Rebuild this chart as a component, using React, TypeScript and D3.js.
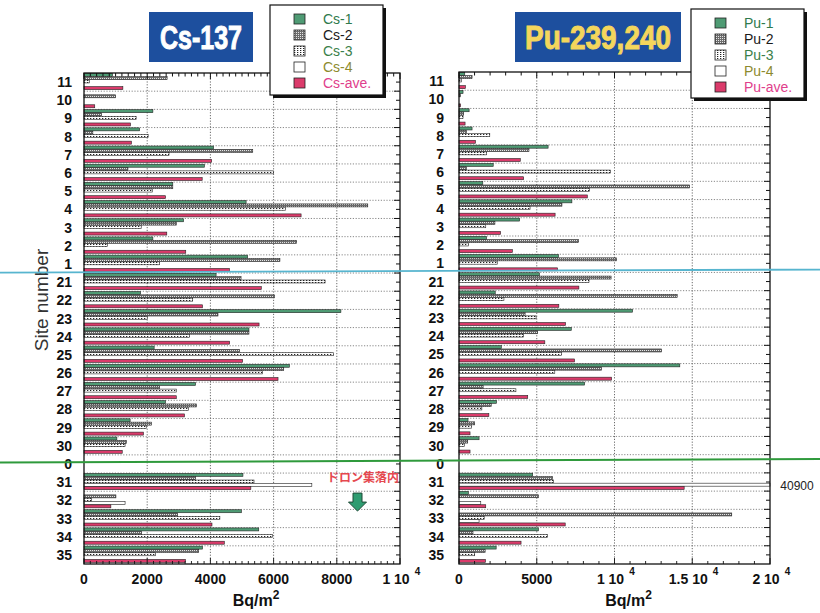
import React, { useRef, useEffect } from "react";
import * as d3 from "d3";

// site order, top to bottom ("0" is an empty separator row)
const sites = ["11", "10", "9", "8", "7", "6", "5", "4", "3", "2", "1", "21", "22", "23", "24", "25", "26", "27", "28", "29", "30", "0", "31", "32", "33", "34", "35"];

// Cs-137, Bq/m2
const cs1 = [900, 0, 2180, 1760, 4100, 3810, 2810, 5130, 3150, 2180, 5180, 4180, 1790, 8130, 5220, 2220, 6500, 3530, 2580, 1460, 1040, null, 5030, 0, 4980, 5530, 3750];
const cs2 = [2630, 1000, 550, 280, 5340, 1390, 2810, 8980, 2920, 6730, 6200, 4970, 6030, 4240, 5220, 4920, 6320, 2390, 3560, 2130, 1340, null, 3530, 1010, 2960, 1820, 3630];
const cs3 = [180, 0, 1650, 2030, 2690, 6000, 2160, 6370, 1810, 740, 2390, 7630, 3440, 2000, 3340, 7890, 5650, 2920, 3310, 1970, 1300, null, 5380, 240, 4300, 5960, 2260];
const cs4 = [0, 0, 0, 0, 0, 0, 0, 0, 0, 0, 0, 0, 0, 0, 0, 0, 0, 0, 0, 0, 0, null, 7210, 1300, 0, 0, 0];
const csAve = [1230, 340, 1470, 1500, 4040, 3740, 2580, 6870, 2620, 3220, 4600, 5610, 3750, 5540, 4610, 5020, 6140, 2920, 3180, 1880, 1210, null, 5280, 850, 4050, 4440, 3210];

// Pu-239,240, Bq/m2
const pu1 = [370, 260, 650, 840, 5730, 2200, 1530, 7260, 3900, 1770, 6400, 5170, 2330, 11160, 7220, 2720, 14200, 8080, 2410, 580, 1290, null, 4740, 600, 0, 5110, 2390];
const pu2 = [840, 90, 300, 470, 4500, 470, 14830, 6620, 2310, 7690, 10130, 9780, 14030, 4250, 5060, 13020, 9160, 1550, 2070, 1010, 560, null, 6010, 5110, 17540, 900, 1680];
const pu3 = [150, 0, 260, 1980, 1770, 9740, 8400, 4570, 1720, 600, 2460, 8360, 2890, 4960, 4140, 6590, 6160, 3660, 1470, 800, 340, null, 6080, 0, 1620, 5690, 1010];
const pu4 = [0, 0, 0, 0, 0, 0, 0, 0, 0, 0, 0, 0, 0, 0, 0, 0, 0, 0, 0, 0, 0, null, 40900, 1400, 1290, 0, 0];
const puAve = [410, 100, 390, 1060, 3940, 4160, 8250, 6180, 2670, 3430, 6340, 7710, 6420, 6850, 5520, 7430, 9810, 4420, 1920, 710, 710, null, 14480, 1720, 6830, 3990, 1700];

const csNames = ["Cs-1", "Cs-2", "Cs-3", "Cs-4", "Cs-ave."];
const puNames = ["Pu-1", "Pu-2", "Pu-3", "Pu-4", "Pu-ave."];
const nameColors = ["#2f7a4c", "#1a1a1a", "#3b7f4a", "#8d8a2e", "#e0408c"];

const csTicks = [0, 2000, 4000, 6000, 8000, 10000];
const csTickLabels = ["0", "2000", "4000", "6000", "8000", "1 10"];
const csTickSup = ["", "", "", "", "", "4"];
const puTicks = [0, 5000, 10000, 15000, 20000];
const puTickLabels = ["0", "5000", "1 10", "1.5 10", "2 10"];
const puTickSup = ["", "", "4", "4", "4"];

const fills = ["#4f9b74", "url(#pat-hatch)", "url(#pat-dots)", "#ffffff", "#db3b6b"];
const FONT = "'Liberation Sans', Arial, sans-serif";

const App = () => {
  const svgRef = useRef<SVGSVGElement>(null);

  useEffect(() => {
    const svg = d3.select(svgRef.current);
    svg.selectAll("*").remove();

    const defs = svg.append("defs");
    const hatch = defs.append("pattern").attr("id", "pat-hatch").attr("patternUnits", "userSpaceOnUse").attr("width", 2).attr("height", 2);
    hatch.append("rect").attr("width", 2).attr("height", 2).attr("fill", "#6c6c6c");
    hatch.append("rect").attr("width", 1).attr("height", 1).attr("fill", "#e6e6e6");
    const dots = defs.append("pattern").attr("id", "pat-dots").attr("patternUnits", "userSpaceOnUse").attr("width", 3).attr("height", 2);
    dots.append("rect").attr("width", 3).attr("height", 2).attr("fill", "#ffffff");
    dots.append("rect").attr("width", 1.3).attr("height", 1).attr("fill", "#222");

    svg.append("rect").attr("width", 820).attr("height", 613).attr("fill", "#fff");

    const drawPanel = (p: any) => {
      const x = d3.scaleLinear().domain([0, p.max]).range([p.x0, p.x1]);
      const y = d3.scaleBand().domain(sites).range([p.y0, p.y1]);
      const bw = y.bandwidth();
      const inner = d3.scaleBand<number>().domain(d3.range(5)).range([0.3, bw - 1.6]).paddingInner(0.1);
      const g = svg.append("g");

      // grid
      g.selectAll(".vg").data(p.ticks.slice(1, -1)).join("line")
        .attr("x1", (d: number) => x(d)).attr("x2", (d: number) => x(d))
        .attr("y1", p.y0).attr("y2", p.y1)
        .attr("stroke", "#444").attr("stroke-width", 0.8).attr("stroke-dasharray", "1.2,1.6");
      g.selectAll(".hg").data(sites.slice(1)).join("line")
        .attr("x1", p.x0).attr("x2", p.x1)
        .attr("y1", (d) => y(d)!).attr("y2", (d) => y(d)!)
        .attr("stroke", "#555").attr("stroke-width", 0.7).attr("stroke-dasharray", "1.2,1.6");

      // bars
      p.series.forEach((vals: (number | null)[], si: number) => {
        const rows = sites.map((s, i) => ({ s, v: vals[i] })).filter((d) => d.v != null && d.v > 0);
        g.append("g").selectAll("rect").data(rows).join("rect")
          .attr("x", x(0))
          .attr("y", (d) => y(d.s)! + inner(si)!)
          .attr("width", (d) => x(Math.min(d.v as number, p.max)) - x(0))
          .attr("height", inner.bandwidth())
          .attr("fill", fills[si])
          .attr("stroke", "#222").attr("stroke-width", 0.6);
      });

      // minor ticks top and bottom
      const minors = d3.range(0, p.max + 1e-6, p.minor);
      const isMajor = (d: number) => p.ticks.some((t: number) => Math.abs(t - d) < 1e-6);
      g.selectAll(".tt").data(minors).join("line")
        .attr("x1", (d) => x(d)).attr("x2", (d) => x(d))
        .attr("y1", p.y0).attr("y2", (d) => p.y0 + (isMajor(d) ? 6 : 3.5))
        .attr("stroke", "#111").attr("stroke-width", 1);
      g.selectAll(".tb").data(minors).join("line")
        .attr("x1", (d) => x(d)).attr("x2", (d) => x(d))
        .attr("y1", p.y1).attr("y2", (d) => p.y1 - (isMajor(d) ? 6 : 3))
        .attr("stroke", "#111").attr("stroke-width", 0.9);
      // right edge ticks every half row
      const halfRows = d3.range(1, sites.length * 2).map((i) => p.y0 + (i * bw) / 2);
      g.selectAll(".tr").data(halfRows).join("line")
        .attr("x1", p.x1).attr("x2", (d, i) => p.x1 - (i % 2 === 1 ? 6 : 4))
        .attr("y1", (d) => d).attr("y2", (d) => d)
        .attr("stroke", "#111").attr("stroke-width", 1);

      // frame
      g.append("rect").attr("x", p.x0).attr("y", p.y0)
        .attr("width", p.x1 - p.x0).attr("height", p.y1 - p.y0)
        .attr("fill", "none").attr("stroke", "#111").attr("stroke-width", 1.3);

      // site labels
      g.selectAll(".sl").data(sites).join("text")
        .attr("x", p.x0 - p.labelGap)
        .attr("y", (d) => y(d)! + bw / 2 + 5)
        .attr("text-anchor", "end")
        .attr("font-family", FONT).attr("font-weight", "bold").attr("font-size", 14)
        .attr("fill", "#111")
        .text((d) => d);

      // x tick labels
      p.ticks.forEach((t: number, i: number) => {
        const sup = p.sup[i];
        const tx = x(t) - (sup ? 4 : 0);
        const lbl = g.append("text")
          .attr("x", tx).attr("y", p.y1 + 20)
          .attr("text-anchor", "middle")
          .attr("font-family", FONT).attr("font-weight", "bold").attr("font-size", 14)
          .attr("fill", "#111")
          .text(p.labels[i]);
        if (sup) {
          const w = (lbl.node() as SVGTextElement).getComputedTextLength();
          g.append("text")
            .attr("x", tx + w / 2 + 5).attr("y", p.y1 + 11)
            .attr("font-family", FONT).attr("font-weight", "bold").attr("font-size", 10)
            .attr("fill", "#111").text(sup);
        }
      });

      // axis title
      const at = g.append("text")
        .attr("x", (p.x0 + p.x1) / 2 + 14).attr("y", p.y1 + 42)
        .attr("text-anchor", "middle")
        .attr("font-family", FONT).attr("font-weight", "bold").attr("font-size", 16)
        .attr("fill", "#111");
      at.append("tspan").text("Bq/m");
      at.append("tspan").attr("dy", -7).attr("font-size", 12).text("2");

      // title box
      g.append("rect").attr("x", p.title.x).attr("y", 12).attr("width", p.title.w).attr("height", 50).attr("fill", "#1d4f9e");
      g.append("text")
        .attr("x", p.title.x + p.title.w / 2).attr("y", 49)
        .attr("text-anchor", "middle")
        .attr("font-family", FONT).attr("font-weight", "bold").attr("font-size", 34)
        .attr("textLength", p.title.tw).attr("lengthAdjust", "spacingAndGlyphs")
        .attr("fill", p.title.color)
        .attr("stroke", p.title.color).attr("stroke-width", 1)
        .text(p.title.text);

      // legend
      const L = p.legend;
      g.append("rect").attr("x", L.x + 3).attr("y", L.y + 3).attr("width", L.w).attr("height", L.h).attr("fill", "#111");
      g.append("rect").attr("x", L.x).attr("y", L.y).attr("width", L.w).attr("height", L.h)
        .attr("fill", "#fff").attr("stroke", "#111").attr("stroke-width", 1.2);
      p.names.forEach((n: string, i: number) => {
        const cy = L.y + 14 + i * 16;
        g.append("rect").attr("x", L.x + 24).attr("y", cy - 5).attr("width", 11).attr("height", 10)
          .attr("fill", fills[i]).attr("stroke", "#222").attr("stroke-width", 0.8);
        g.append("text").attr("x", L.x + 53).attr("y", cy + 5)
          .attr("font-family", FONT).attr("font-size", 14).attr("fill", nameColors[i]).text(n);
      });

      return { x, y, inner, bw };
    };

    const left = drawPanel({
      x0: 84, x1: 400, y0: 73, y1: 564, max: 10000, minor: 200, labelGap: 12,
      ticks: csTicks, labels: csTickLabels, sup: csTickSup,
      series: [cs1, cs2, cs3, cs4, csAve], names: csNames,
      title: { x: 149, w: 104, tw: 82, text: "Cs-137", color: "#ffffff" },
      legend: { x: 270, y: 5, w: 113, h: 90 },
    });
    const right = drawPanel({
      x0: 459, x1: 770, y0: 72, y1: 564, max: 20000, minor: 1000, labelGap: 15,
      ticks: puTicks, labels: puTickLabels, sup: puTickSup,
      series: [pu1, pu2, pu3, pu4, puAve], names: puNames,
      title: { x: 515, w: 166, tw: 146, text: "Pu-239,240", color: "#f4d65c" },
      legend: { x: 691, y: 9, w: 113, h: 89 },
    });

    // off-scale value note
    const r31 = right.y("31")! + right.inner(3)! + right.inner.bandwidth() / 2;
    svg.append("text").attr("x", 797).attr("y", r31 + 5)
      .attr("text-anchor", "middle").attr("font-family", FONT).attr("font-size", 12).attr("fill", "#222")
      .text("40900");

    // "Site number"
    svg.append("text")
      .attr("transform", "translate(48,300) rotate(-90)")
      .attr("text-anchor", "middle")
      .attr("font-family", FONT).attr("font-size", 19).attr("fill", "#333")
      .text("Site number");

    // separator lines across both panels
    const cyY = left.y("21")!;
    svg.append("line").attr("x1", 0).attr("x2", 820).attr("y1", cyY - 0.5).attr("y2", cyY - 3.5)
      .attr("stroke", "#57b5cf").attr("stroke-width", 1.8);
    const grY = left.y("0")! + left.bw / 2;
    svg.append("line").attr("x1", 0).attr("x2", 820).attr("y1", grY - 1.5).attr("y2", grY - 5)
      .attr("stroke", "#2f9a3c").attr("stroke-width", 2);

    // drone village note and arrow
    const ay = left.y("31")!;
    svg.append("text").attr("x", 363).attr("y", ay + 9)
      .attr("text-anchor", "middle")
      .attr("font-family", "'Noto Sans CJK JP', sans-serif").attr("font-weight", "bold").attr("font-size", 12)
      .attr("fill", "#e5484f").text("ドロン集落内");
    const ax = 357.5, atop = ay + 20;
    svg.append("path")
      .attr("d", `M${ax - 4.5},${atop} H${ax + 4.5} V${atop + 9} H${ax + 9} L${ax},${atop + 18} L${ax - 9},${atop + 9} H${ax - 4.5} Z`)
      .attr("fill", "#2e9c70").attr("stroke", "#1f4a36").attr("stroke-width", 1);
  }, []);

  return (
    <div style={{ position: "absolute", left: 0, top: 0 }}>
      <svg ref={svgRef} width={820} height={613}></svg>
    </div>
  );
};

export default App;
